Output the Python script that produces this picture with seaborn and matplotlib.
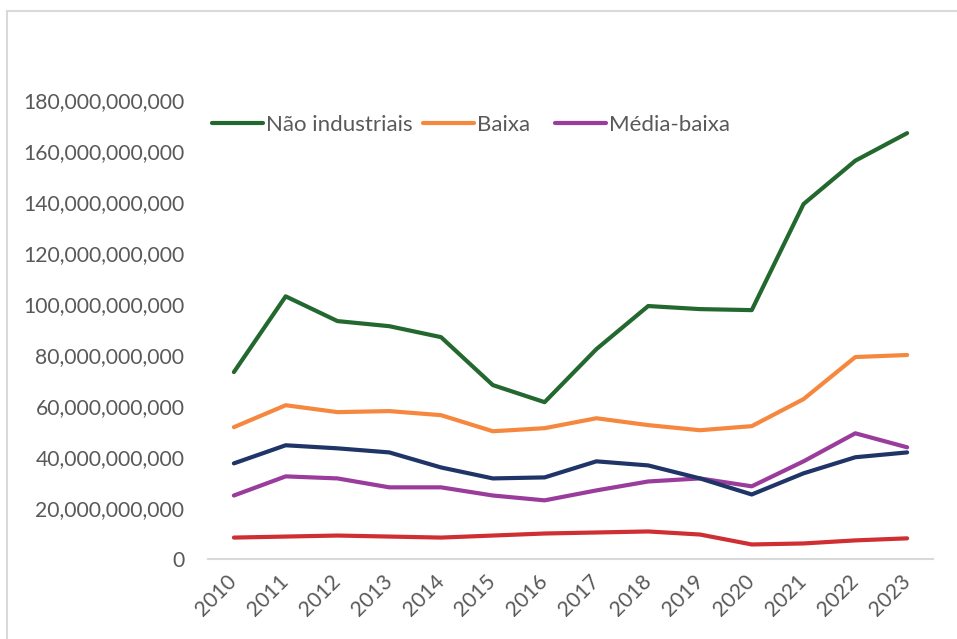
import matplotlib
matplotlib.use("Agg")
import matplotlib.pyplot as plt
import matplotlib.ticker as mticker
from matplotlib.patches import Rectangle
import seaborn as sns
import pandas as pd

years = [str(y) for y in range(2010, 2024)]
nao_industriais = [73.3, 103.0, 93.3, 91.3, 87.0, 68.2, 61.5, 82.3, 99.2, 98.0, 97.6, 139.2, 156.2, 167.0]
baixa = [51.7, 60.3, 57.6, 58.0, 56.4, 50.1, 51.3, 55.2, 52.5, 50.5, 52.1, 62.7, 79.2, 80.0]
media_alta = [37.5, 44.6, 43.4, 41.8, 35.9, 31.6, 32.0, 38.3, 36.7, 31.6, 25.3, 33.6, 39.9, 41.8]
media_baixa = [24.9, 32.4, 31.6, 28.1, 28.1, 24.9, 23.0, 26.9, 30.4, 31.6, 28.5, 38.3, 49.3, 43.8]
alta = [8.4, 8.8, 9.2, 8.8, 8.4, 9.2, 10.0, 10.4, 10.8, 9.6, 5.7, 6.1, 7.3, 8.1]

series_names = ["Não industriais", "Baixa", "Média-baixa", "Média-alta", "Alta"]
series_values = [nao_industriais, baixa, media_baixa, media_alta, alta]
colors = ["#23682f", "#f5883e", "#9a3c9c", "#1f3568", "#cf2f33"]
legend_shown = ["Não industriais", "Baixa", "Média-baixa"]

rows = []
for name, vals in zip(series_names, series_values):
    for y, v in zip(years, vals):
        rows.append({"Ano": y, "Valor": v * 1e9, "Série": name})
df = pd.DataFrame(rows)

sns.set_theme(style="white")
plt.rcParams["font.family"] = ["Lato", "DejaVu Sans"]

fig = plt.figure(figsize=(9.57, 6.39), dpi=100)
ax = fig.add_axes([208 / 957, (639 - 559) / 639, (933 - 208) / 957, (559 - 100) / 639])

sns.lineplot(data=df, x="Ano", y="Valor", hue="Série", hue_order=series_names,
             palette=colors, linewidth=3, ax=ax, sort=False, legend=True)

ax.set_ylim(0, 180e9)
ax.set_xlim(-0.5, len(years) - 0.5)
ax.yaxis.set_major_locator(mticker.MultipleLocator(20e9))
ax.yaxis.set_major_formatter(mticker.FuncFormatter(lambda v, p: f"{v:,.0f}"))
ax.set_xlabel("")
ax.set_ylabel("")
for s in ["top", "right", "left"]:
    ax.spines[s].set_visible(False)
ax.spines["bottom"].set_color("#d9d9d9")
ax.spines["bottom"].set_linewidth(1.5)
ax.tick_params(axis="y", length=0, labelsize=15.2, labelcolor="#595959", pad=17)
ax.tick_params(axis="x", length=0, labelsize=15.2, labelcolor="#595959", pad=14)
for lbl in ax.get_xticklabels():
    lbl.set_rotation(45)
    lbl.set_horizontalalignment("right")
    lbl.set_verticalalignment("center")
    lbl.set_rotation_mode("anchor")

handles, labels = ax.get_legend_handles_labels()
ax.get_legend().remove()
hmap = dict(zip(labels, handles))
leg_x = [212, 423, 555]
for name, xp in zip(legend_shown, leg_x):
    leg = fig.legend([hmap[name]], [name], loc="center left",
                     bbox_to_anchor=(xp / 957, (639 - 125) / 639), frameon=False,
                     fontsize=16, handlelength=2.3, handletextpad=0.15,
                     borderaxespad=0, borderpad=0)
    for t in leg.get_texts():
        t.set_color("#595959")

fig.patches.append(Rectangle((7 / 957, -0.1), 1.2, (639 - 11) / 639 + 0.1,
                             transform=fig.transFigure, fill=False,
                             edgecolor="#d9d9d9", linewidth=1.5))

fig.savefig("out.png", dpi=100)
